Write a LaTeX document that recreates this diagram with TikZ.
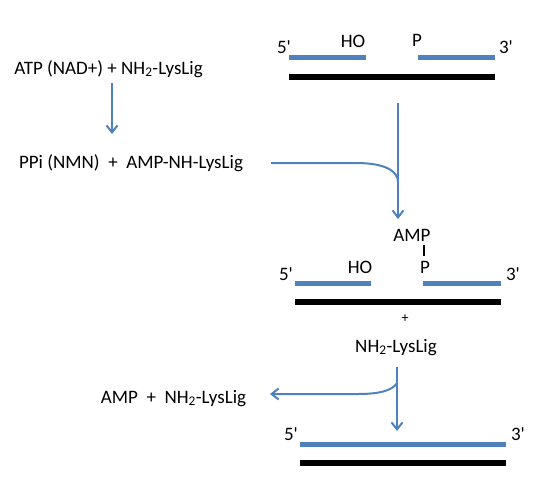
\documentclass[tikz,border=0pt]{standalone}
\usepackage{fontspec}
\setmainfont{Carlito}[Ligatures=TeXOff]
\usetikzlibrary{arrows.meta}
\definecolor{ligblue}{RGB}{79,129,189}
\tikzset{
  lbl/.style={anchor=base,inner sep=0pt,font=\fontsize{19}{21}\selectfont},
  newstrand/.style={draw=ligblue,line width=5pt},
  tmplstrand/.style={draw=black,line width=6pt},
  arr/.style={draw=ligblue,line width=2pt,-{Straight Barb[length=7pt,width=11pt,line width=2pt]}},
  joinline/.style={draw=ligblue,line width=2pt}
}
\begin{document}
\begin{tikzpicture}[x=1pt,y=-1pt]
\useasboundingbox (0,0) rectangle (545,501);

% left side reactions
\node[lbl] (atp) at (108.5,74) {ATP (NAD+) + NH\textsubscript{2}-LysLig};
\node[lbl] (ppi) at (131,168) {PPi (NMN) \ + \ AMP-NH-LysLig};
\node[lbl] (amprel) at (173.5,403) {AMP \ + \ NH\textsubscript{2}-LysLig};
\coordinate (atpdown) at (112,83);
\coordinate (ppiup) at (112,134);
\draw[arr] (atpdown) -- (ppiup);

% nicked substrate
\node[lbl] (fiveA) at (284,53) {5'};
\node[lbl] (hoA) at (353,47) {HO};
\node[lbl] (pA) at (417,46) {P};
\node[lbl] (threeA) at (506,53) {3'};
\draw[newstrand] (289,57) -- (366,57);
\draw[newstrand] (418,57) -- (495,57);
\draw[tmplstrand] (289,77) -- (495,77);

% adenylylation of the 5' phosphate
\coordinate (downA) at (398,103);
\coordinate (ampup) at (398,219);
\coordinate (ppiout) at (271,163);
\coordinate (joinA) at (398,182);
\draw[arr] (downA) -- (ampup);
\draw[joinline] (ppiout) -- (356,163) .. controls (385,163) and (398,171) .. (joinA);

% adenylated intermediate
\node[lbl] (amp) at (412,241) {AMP};
\node[lbl] (fiveB) at (286,280) {5'};
\node[lbl] (hoB) at (360,273) {HO};
\node[lbl] (pB) at (425,273) {P};
\node[lbl] (threeB) at (513,280) {3'};
\draw[line width=2pt] (424,245) -- (424,256);
\draw[newstrand] (295,283) -- (371,283);
\draw[newstrand] (423,283) -- (501,283);
\draw[tmplstrand] (295,302) -- (501,302);
\node[inner sep=0pt,font=\fontsize{14}{15}\selectfont] (plus) at (405,319) {+};
\node[lbl] (lig) at (396,352) {NH\textsubscript{2}-LysLig};

% sealing of the nick
\coordinate (downB) at (397,367);
\coordinate (sealup) at (397,431);
\coordinate (splitB) at (397,383);
\coordinate (relin) at (270,394);
\draw[arr] (downB) -- (sealup);
\draw[arr] (splitB) .. controls (392,391) and (378,394) .. (358,394) -- (relin);

% sealed product
\node[lbl] (fiveC) at (291,440) {5'};
\node[lbl] (threeC) at (518,440) {3'};
\draw[newstrand] (300,444) -- (506,444);
\draw[tmplstrand] (300,463) -- (506,463);
\end{tikzpicture}
\end{document}
